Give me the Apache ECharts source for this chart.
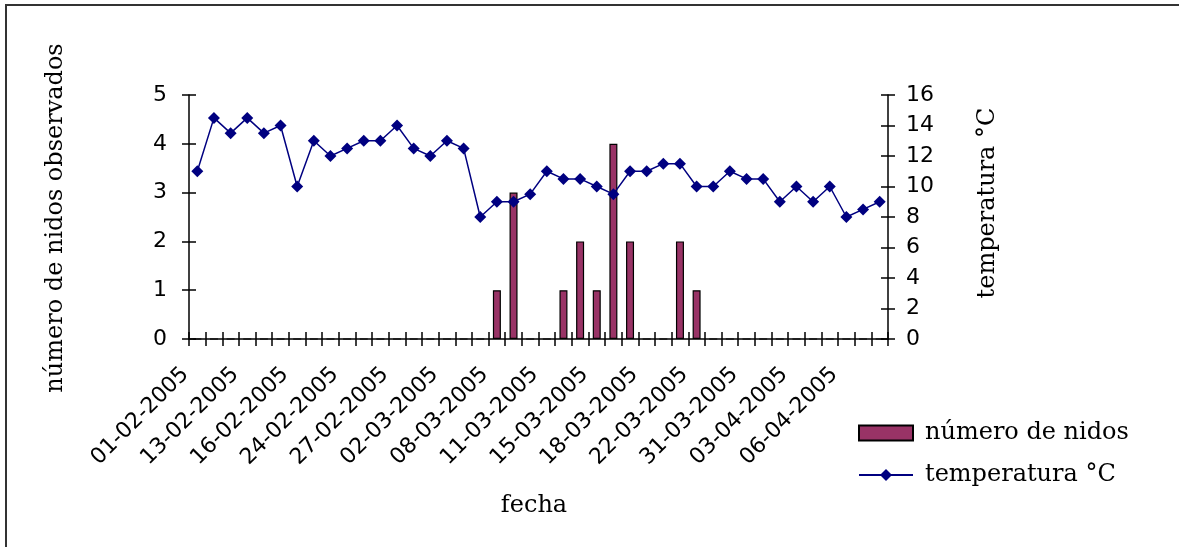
<!DOCTYPE html>
<html>
<head>
<meta charset="utf-8">
<title>Nidos y temperatura</title>
<script src="https://cdn.jsdelivr.net/npm/echarts@6/dist/echarts.min.js"></script>
<style>
  html, body { margin: 0; padding: 0; background: #fff; }
  #chart { width: 1179px; height: 547px; }
</style>
</head>
<body>
<div id="chart"></div>
<script>
// Fechas de muestreo (se rotula una de cada tres)
const fechas = [
  '01-02-2005', '05-02-2005', '09-02-2005', '13-02-2005', '14-02-2005', '15-02-2005',
  '16-02-2005', '18-02-2005', '21-02-2005', '24-02-2005', '25-02-2005', '26-02-2005',
  '27-02-2005', '28-02-2005', '01-03-2005', '02-03-2005', '04-03-2005', '06-03-2005',
  '08-03-2005', '09-03-2005', '10-03-2005', '11-03-2005', '12-03-2005', '14-03-2005',
  '15-03-2005', '16-03-2005', '17-03-2005', '18-03-2005', '19-03-2005', '21-03-2005',
  '22-03-2005', '25-03-2005', '28-03-2005', '31-03-2005', '01-04-2005', '02-04-2005',
  '03-04-2005', '04-04-2005', '05-04-2005', '06-04-2005', '07-04-2005', '08-04-2005'
];

// Número de nidos observados por fecha
const nidos = [
  0, 0, 0, 0, 0, 0, 0, 0, 0, 0, 0, 0, 0, 0, 0, 0, 0, 0,
  1, 3, 0, 0, 1, 2, 1, 4, 2, 0, 0, 2, 1,
  0, 0, 0, 0, 0, 0, 0, 0, 0, 0, 0
];

// Temperatura (ºC) por fecha
const temperatura = [
  11, 14.5, 13.5, 14.5, 13.5, 14, 10, 13, 12, 12.5, 13, 13, 14, 12.5,
  12, 13, 12.5, 8, 9, 9, 9.5, 11, 10.5, 10.5, 10, 9.5, 11, 11,
  11.5, 11.5, 10, 10, 11, 10.5, 10.5, 9, 10, 9, 10, 8, 8.5, 9
];

const ticksNidos = { min: 0, max: 5, interval: 1 };
const ticksTemp = { min: 0, max: 16, interval: 2 };

const ink = '#000';
const sans = 'DejaVu Sans';
const serif = 'DejaVu Serif';

const chart = echarts.init(document.getElementById('chart'), null, { renderer: 'canvas' });

const grid = { left: 189, right: 291, top: 95, bottom: 208, containLabel: false };

// Axis pieces: the outer axes carry the labels and outward ticks,
// twin axes on the same positions add the inward half of each tick.
const axisLineStyle = { show: true, lineStyle: { color: ink, width: 1.5 } };
const tickStyle = { color: ink, width: 1.5 };

const option = {
  animation: false,
  backgroundColor: '#fff',
  grid: grid,
  legend: {
    orient: 'vertical',
    left: 858,
    top: 421,
    padding: 0,
    itemWidth: 54,
    itemHeight: 15,
    itemGap: 18,
    textStyle: { fontFamily: serif, fontSize: 24, color: ink, padding: [0, 0, 0, 7] },
    data: [
      { name: 'número de nidos', icon: 'rect' },
      { name: 'temperatura °C' }
    ]
  },
  xAxis: [
    {
      type: 'category',
      data: fechas,
      boundaryGap: true,
      axisLine: axisLineStyle,
      axisTick: { show: true, interval: 0, length: 7, lineStyle: tickStyle },
      axisLabel: {
        interval: 2,
        rotate: 45,
        margin: 20,
        padding: [0, 17, 0, 0],
        fontFamily: sans,
        fontSize: 22,
        color: ink
      }
    },
    {
      type: 'category',
      data: fechas,
      boundaryGap: true,
      position: 'bottom',
      axisLine: { show: false },
      axisTick: { show: true, inside: true, interval: 0, length: 7, lineStyle: tickStyle },
      axisLabel: { show: false }
    }
  ],
  yAxis: [
    {
      type: 'value',
      position: 'left',
      min: ticksNidos.min, max: ticksNidos.max, interval: ticksNidos.interval,
      axisLine: axisLineStyle,
      axisTick: { show: true, length: 7, lineStyle: tickStyle },
      axisLabel: { margin: 22, fontFamily: sans, fontSize: 22, color: ink },
      splitLine: { show: false }
    },
    {
      type: 'value',
      position: 'right',
      min: ticksTemp.min, max: ticksTemp.max, interval: ticksTemp.interval,
      axisLine: axisLineStyle,
      axisTick: { show: true, length: 7, lineStyle: tickStyle },
      axisLabel: { margin: 18, fontFamily: sans, fontSize: 22, color: ink },
      splitLine: { show: false }
    },
    {
      type: 'value',
      position: 'left',
      min: ticksNidos.min, max: ticksNidos.max, interval: ticksNidos.interval,
      axisLine: { show: false },
      axisTick: { show: true, inside: true, length: 7, lineStyle: tickStyle },
      axisLabel: { show: false },
      splitLine: { show: false }
    },
    {
      type: 'value',
      position: 'right',
      min: ticksTemp.min, max: ticksTemp.max, interval: ticksTemp.interval,
      axisLine: { show: false },
      axisTick: { show: true, inside: true, length: 7, lineStyle: tickStyle },
      axisLabel: { show: false },
      splitLine: { show: false }
    }
  ],
  series: [
    {
      name: 'número de nidos',
      type: 'bar',
      xAxisIndex: 0,
      yAxisIndex: 0,
      data: nidos,
      barWidth: 8,
      itemStyle: { color: '#993366', borderColor: ink, borderWidth: 1.2 }
    },
    {
      name: 'temperatura °C',
      type: 'line',
      xAxisIndex: 0,
      yAxisIndex: 1,
      data: temperatura,
      symbol: 'diamond',
      symbolSize: 12,
      showAllSymbol: true,
      lineStyle: { color: '#000080', width: 1.5 },
      itemStyle: { color: '#000080' },
      z: 3
    }
  ],
  graphic: [
    {
      type: 'rect',
      shape: { x: 6, y: 5, width: 1300, height: 700 },
      style: { fill: 'none', stroke: '#333', lineWidth: 2 },
      silent: true
    },
    {
      type: 'text',
      x: 56, y: 218,
      rotation: Math.PI / 2,
      style: {
        text: 'número de nidos observados',
        font: '24px "' + serif + '"',
        fill: ink,
        align: 'center',
        verticalAlign: 'middle'
      }
    },
    {
      type: 'text',
      x: 988, y: 203,
      rotation: Math.PI / 2,
      style: {
        text: 'temperatura °C',
        font: '24px "' + serif + '"',
        fill: ink,
        align: 'center',
        verticalAlign: 'middle'
      }
    },
    {
      type: 'text',
      x: 534, y: 506,
      style: {
        text: 'fecha',
        font: '24px "' + serif + '"',
        fill: ink,
        align: 'center',
        verticalAlign: 'middle'
      }
    }
  ]
};

chart.setOption(option);
</script>
</body>
</html>
